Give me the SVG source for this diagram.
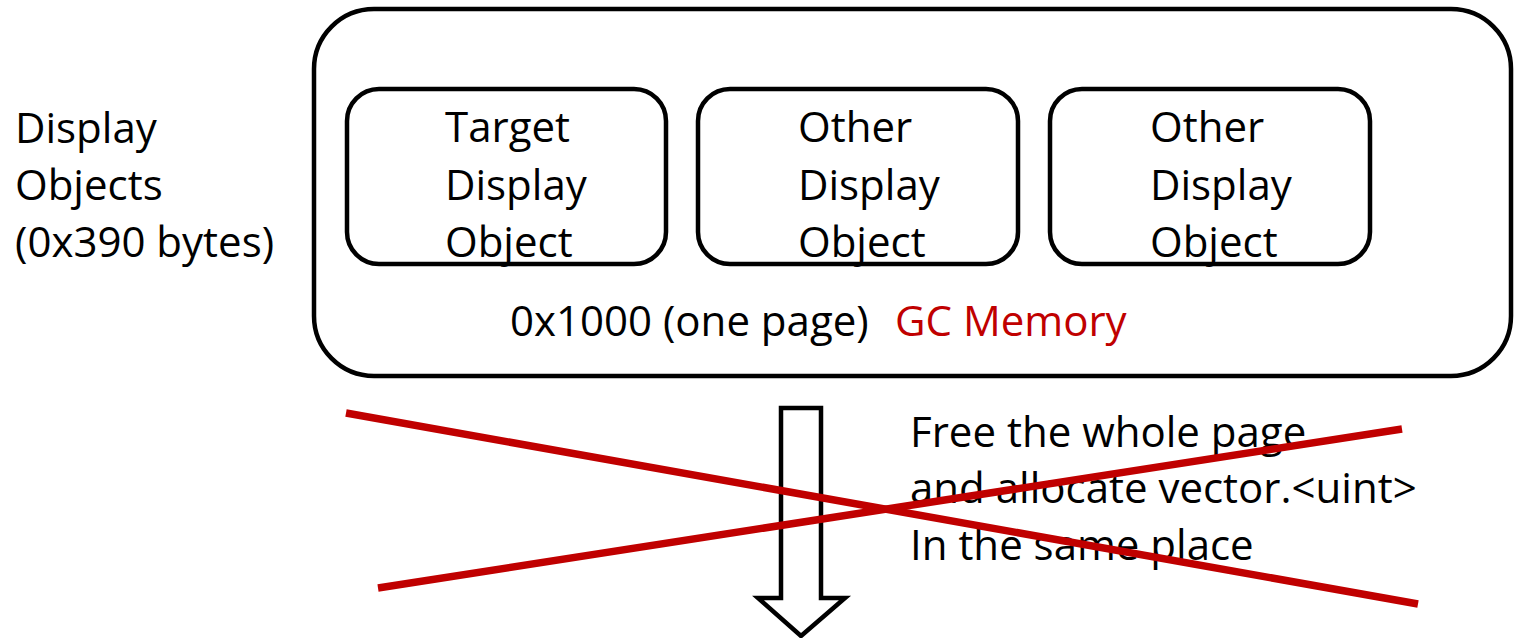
<svg xmlns="http://www.w3.org/2000/svg" width="1514" height="638" viewBox="0 0 1514 638">
  <style>
    .box { fill: #ffffff; stroke: #000000; stroke-width: 4.5; }
    .txt { font-family: "Open Sans", "Noto Sans", "Liberation Sans", sans-serif; font-size: 42px; fill: #000000; }
    .red { fill: #C00000; }
    .cross { stroke: #C00000; stroke-width: 7.5; stroke-linecap: butt; fill: none; }
  </style>
  <rect width="1514" height="638" fill="#ffffff"/>

  <!-- left caption -->
  <g id="caption">
    <text class="txt" x="15" y="143">Display</text>
    <text class="txt" x="15" y="200">Objects</text>
    <text class="txt" x="15" y="257">(0x390 bytes)</text>
  </g>

  <!-- GC memory page -->
  <g id="gc-page">
    <rect class="box" x="314" y="9" width="1197" height="367" rx="60" ry="60"/>
    <text x="510" y="336" class="txt">0x1000 (one page)<tspan class="red" x="895">GC Memory</tspan></text>
  </g>

  <g id="target-object">
    <rect class="box" x="347" y="89" width="319" height="175" rx="32" ry="32"/>
    <text class="txt" x="445" y="142">Target</text>
    <text class="txt" x="445" y="200">Display</text>
    <text class="txt" x="445" y="257">Object</text>
  </g>

  <g id="other-object-1">
    <rect class="box" x="698" y="89" width="320" height="175" rx="32" ry="32"/>
    <text class="txt" x="798" y="142">Other</text>
    <text class="txt" x="798" y="200">Display</text>
    <text class="txt" x="798" y="257">Object</text>
  </g>

  <g id="other-object-2">
    <rect class="box" x="1050" y="89" width="320" height="175" rx="32" ry="32"/>
    <text class="txt" x="1150" y="142">Other</text>
    <text class="txt" x="1150" y="200">Display</text>
    <text class="txt" x="1150" y="257">Object</text>
  </g>

  <!-- downward block arrow -->
  <g id="connectors">
    <path class="box" d="M781 408 H821 V598 H845 L801 636 L758 598 H781 Z" stroke-linejoin="miter"/>
  </g>

  <g id="step-note">
    <text class="txt" x="910" y="447">Free the whole page</text>
    <text class="txt" x="910" y="503">and allocate vector.&lt;uint&gt;</text>
    <text class="txt" x="910" y="560">In the same place</text>
  </g>

  <!-- crossed out -->
  <g id="cross-out">
    <line class="cross" x1="346" y1="413" x2="1418" y2="604"/>
    <line class="cross" x1="378" y1="588" x2="1402" y2="429"/>
  </g>
</svg>
